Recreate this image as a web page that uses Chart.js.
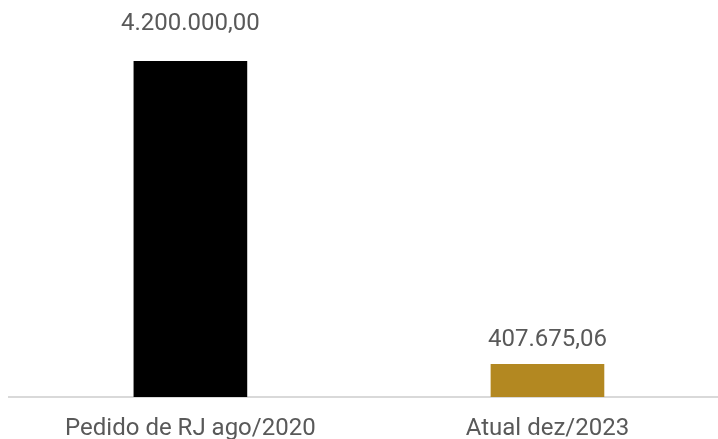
<!DOCTYPE html>
<html>
<head>
<meta charset="utf-8">
<script src="https://cdn.jsdelivr.net/npm/chart.js@4.4.0/dist/chart.umd.min.js"></script>
<style>
  html, body { margin: 0; padding: 0; background: #fff; }
  #wrap { width: 718px; height: 439px; position: relative; }
</style>
</head>
<body>
<div id="wrap"><canvas id="myBarChart"></canvas></div>
<script>
// data
const categories = ["Pedido de RJ ago/2020", "Atual dez/2023"];
const positions = [0, 1];
const values = [4200000.0, 407675.06];
const barColors = ["#000000", "#b38821"];

// formato brasileiro 1.234,56
function fmtBR(v) {
  const parts = v.toFixed(2).split(".");
  return parts[0].replace(/\B(?=(\d{3})+(?!\d))/g, ".") + "," + parts[1];
}

// label di atas bar
const topLabels = {
  id: "topLabels",
  afterDatasetsDraw(chart, args, opts) {
    const ctx = chart.ctx;
    const meta = chart.getDatasetMeta(0);
    ctx.save();
    ctx.font = "24px Roboto";
    ctx.fillStyle = "#595959";
    ctx.textAlign = "center";
    ctx.textBaseline = "middle";
    meta.data.forEach((bar, i) => {
      ctx.fillText(fmtBR(values[i]), bar.x, bar.y - opts.offsets[i]);
    });
    ctx.restore();
  },
};

const ctxBar = document.getElementById("myBarChart").getContext("2d");
const myBarChart = new Chart(ctxBar, {
  type: "bar",
  data: {
    datasets: [
      {
        data: positions.map((p, i) => ({ x: p, y: values[i] })),
        backgroundColor: barColors,
        borderWidth: 0,
        barThickness: 113,
      },
    ],
  },
  options: {
    responsive: true,
    maintainAspectRatio: false,
    animation: false,
    layout: { padding: { top: 61, left: 9, right: 0, bottom: 0 } },
    plugins: {
      legend: { display: false },
      tooltip: { enabled: false },
      topLabels: { offsets: [37, 24] },
    },
    scales: {
      x: {
        type: "linear",
        offset: false,
        min: -0.508,
        max: 1.4776,
        afterBuildTicks: (axis) => {
          axis.ticks = positions.map((p) => ({ value: p }));
        },
        afterFit: (axis) => {
          axis.height = 42;
        },
        grid: { display: false, drawTicks: false },
        border: { display: true, color: "#d9d9d9", width: 2 },
        ticks: {
          autoSkip: false,
          maxRotation: 0,
          padding: 18,
          color: "#595959",
          font: { family: "Roboto", size: 24 },
          callback: (v) => categories[positions.indexOf(v)],
        },
      },
      y: {
        display: false,
        min: 0,
        max: 4200000,
      },
    },
  },
  plugins: [topLabels],
});
</script>
</body>
</html>
